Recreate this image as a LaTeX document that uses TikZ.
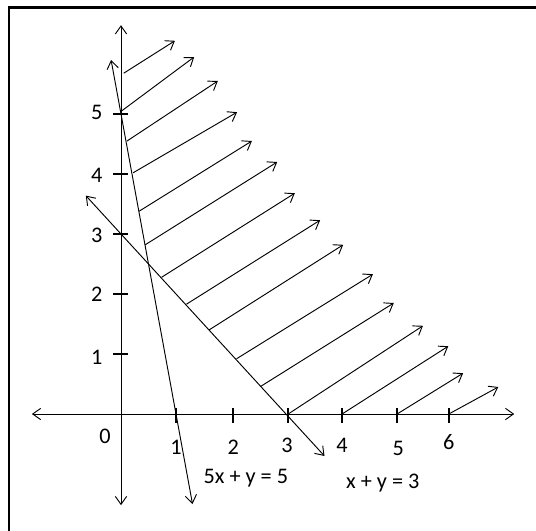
\documentclass[tikz,border=0pt]{standalone}
\usepackage{fontspec}
\setmainfont{Carlito}
\usetikzlibrary{arrows.meta}

\begin{document}
\begin{tikzpicture}[>={Straight Barb[length=2.4mm,width=3.4mm]}, x=1.65cm, y=1.8cm, line width=0.8pt,
		        tickmark/.style={line width=2pt}, lbl/.style={font=\fontsize{19}{22}\selectfont, inner sep=0pt}]
		        \useasboundingbox (-2.2,-1.9333) rectangle (7.5455,6.9);
		        \draw[line width=2.2pt] (-2.036,-1.95) -- (-2.036,6.775) -- (7.56,6.775);
		        \draw[<->] (-1.62,0) -- (7.15,0);
		        \draw[<->] (0,-1.52) -- (0,6.48);
		        \draw[<->] (-0.18,5.9) -- (1.3,-1.5);
		        \draw[<->] (-0.64,3.64) -- (3.7,-0.7);
		        % ticks
		        \draw[tickmark] (-0.14,1) -- (0.13,1) (-0.14,2) -- (0.13,2) (-0.14,3) -- (0.13,3)
		                        (-0.14,4) -- (0.13,4) (-0.14,5) -- (0.13,5);
		        \draw[tickmark] (1,0.1) -- (1,-0.15) (2.04,0.1) -- (2.04,-0.15) (3.04,0.1) -- (3.04,-0.15)
		                        (4.02,0.1) -- (4.02,-0.15) (5.02,0.1) -- (5.02,-0.15) (5.96,0.1) -- (5.96,-0.15);
		        % shaded region
		        \draw[->] (0.05,5.68) -- (0.98,6.22);
		        \draw[->] (0.01,5.05) -- (1.33,5.95);
		        \draw[->] (0.11,4.55) -- (1.76,5.55);
		        \draw[->] (0.22,4.02) -- (2.11,5.03);
		        \draw[->] (0.33,3.38) -- (2.38,4.55);
		        \draw[->] (0.44,2.82) -- (2.84,4.2);
		        \draw[->] (0.74,2.28) -- (3.16,3.68);
		        \draw[->] (1.19,1.83) -- (3.62,3.23);
		        \draw[->] (1.6,1.4) -- (4.04,2.82);
		        \draw[->] (2.1,0.92) -- (4.58,2.33);
		        \draw[->] (2.54,0.46) -- (4.96,1.85);
		        \draw[->] (3.04,0) -- (5.49,1.47);
		        \draw[->] (4.02,0) -- (5.95,1.13);
		        \draw[->] (5.02,0) -- (6.22,0.68);
		        \draw[->] (5.96,0) -- (6.86,0.45);
		        % labels
		        \node[lbl] (y1) at (-0.44,0.95) {1};
		        \node[lbl] (y2) at (-0.44,2) {2};
		        \node[lbl] (y3) at (-0.44,2.98) {3};
		        \node[lbl] (y4) at (-0.44,3.97) {4};
		        \node[lbl] (y5) at (-0.44,5.03) {5};
		        \node[lbl] (x0) at (-0.29,-0.38) {0};
		        \node[lbl] (x1) at (1,-0.55) {1};
		        \node[lbl] (x2) at (2.04,-0.55) {2};
		        \node[lbl] (x3) at (3.02,-0.53) {3};
		        \node[lbl] (x4) at (4.02,-0.53) {4};
		        \node[lbl] (x5) at (5.04,-0.58) {5};
		        \node[lbl] (x6) at (5.96,-0.47) {6};
		        \node[lbl] (eqa) at (2.27,-1.07) {5x + y = 5};
		        \node[lbl] (eqb) at (4.76,-1.15) {x + y = 3};
		    \end{tikzpicture}
\end{document}
